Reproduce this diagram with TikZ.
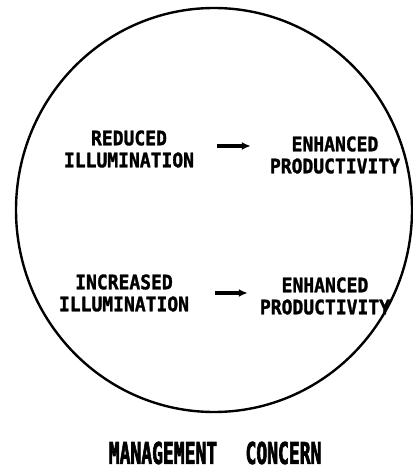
\documentclass[tikz,border=0pt]{standalone}
\usepackage{fontspec}
\usetikzlibrary{arrows.meta}
\newfontfamily\phrasefont[FakeStretch=0.9,FakeBold=1.5]{DejaVu Sans Mono}
\newfontfamily\titlefont[FakeStretch=0.6,FakeBold=2]{DejaVu Sans Mono}
\begin{document}
\begin{tikzpicture}[x=1pt,y=-1pt,
  phrase/.style={inner sep=0pt, align=center, font=\phrasefont\bfseries\fontsize{20}{22}\selectfont},
  title/.style={inner sep=0pt, font=\titlefont\bfseries\fontsize{30}{32}\selectfont},
  arr/.style={line width=3.2pt, -{Latex[length=9pt,width=8pt]}}]
\useasboundingbox (0,0) rectangle (412,473);
\draw[line width=2.4pt] (214,210) ellipse [x radius=198, y radius=202];
\node[phrase] (l1) at (129,149) {REDUCED\\ILLUMINATION};
\node[phrase] (r1) at (335,155) {ENHANCED\\PRODUCTIVITY};
\node[phrase] (l2) at (124,293) {INCREASED\\ILLUMINATION};
\node[phrase] (r2) at (325,296) {ENHANCED\\PRODUCTIVITY};
\draw[arr, shorten <=23pt, shorten >=19pt] ([yshift=3pt]l1.east) -- ([yshift=3pt]l1.east -| r1.west);
\draw[arr, shorten <=26pt, shorten >=12pt] (l2.east) -- (l2.east -| r2.west);
\node[title] (t1) at (163,453) {MANAGEMENT};
\node[title] (t2) at (283.5,453) {CONCERN};
\end{tikzpicture}
\end{document}
